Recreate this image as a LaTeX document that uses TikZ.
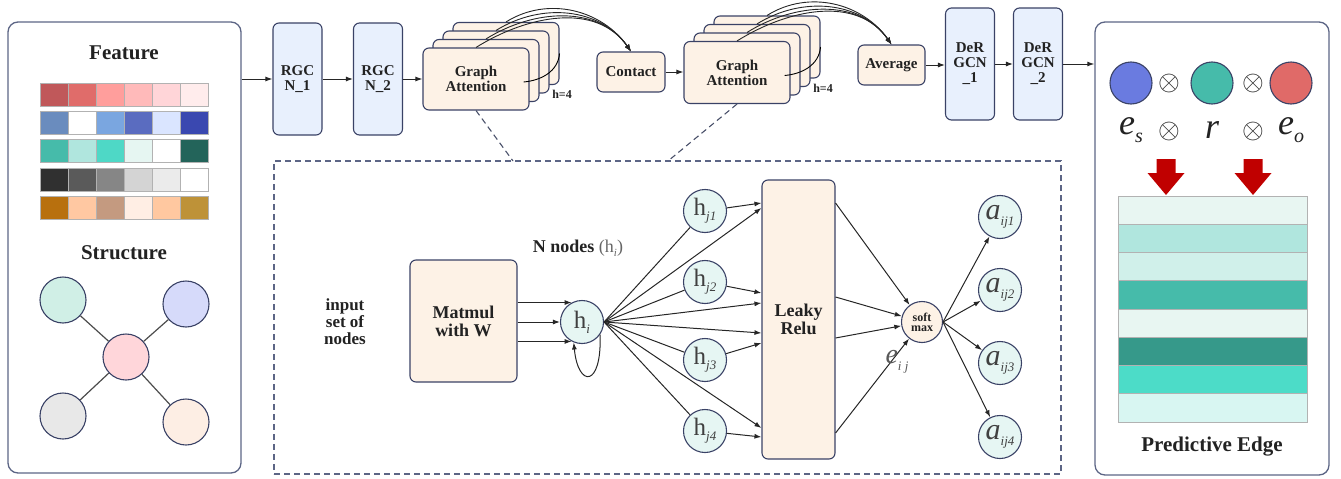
\documentclass[tikz,border=0pt]{standalone}
\usepackage{fontspec}
\setmainfont{Liberation Serif}
\usetikzlibrary{arrows.meta, positioning, calc}

% frame and fill colours
\definecolor{frame}{HTML}{3A4266}
\definecolor{panelc}{HTML}{5C6585}
\definecolor{ink}{HTML}{222222}
\definecolor{cream}{HTML}{FDF2E6}
\definecolor{paleblue}{HTML}{E8F0FD}
\definecolor{paleteal}{HTML}{E6F6F3}
\definecolor{redarrow}{HTML}{C00000}
% feature grid
\definecolor{fa1}{HTML}{C0585A}\definecolor{fa2}{HTML}{E06C6A}\definecolor{fa3}{HTML}{FF9E9C}
\definecolor{fa4}{HTML}{FFBABA}\definecolor{fa5}{HTML}{FFD5D8}\definecolor{fa6}{HTML}{FFECEC}
\definecolor{fb1}{HTML}{6A8CBE}\definecolor{fb2}{HTML}{FFFFFF}\definecolor{fb3}{HTML}{7AA6E0}
\definecolor{fb4}{HTML}{5A6CC0}\definecolor{fb5}{HTML}{DAE5FF}\definecolor{fb6}{HTML}{3A48B0}
\definecolor{fc1}{HTML}{46BBAA}\definecolor{fc2}{HTML}{B0E6DE}\definecolor{fc3}{HTML}{4ED8C6}
\definecolor{fc4}{HTML}{E6F6F2}\definecolor{fc5}{HTML}{FFFFFF}\definecolor{fc6}{HTML}{23645A}
\definecolor{fd1}{HTML}{303030}\definecolor{fd2}{HTML}{5A5A5A}\definecolor{fd3}{HTML}{868686}
\definecolor{fd4}{HTML}{D4D4D4}\definecolor{fd5}{HTML}{EBEBEB}\definecolor{fd6}{HTML}{FFFFFF}
\definecolor{fe1}{HTML}{B8700E}\definecolor{fe2}{HTML}{FFC8A2}\definecolor{fe3}{HTML}{C49A80}
\definecolor{fe4}{HTML}{FFEEE4}\definecolor{fe5}{HTML}{FFC8A0}\definecolor{fe6}{HTML}{BE9238}
% structure nodes
\definecolor{sTeal}{HTML}{D0EFE6}\definecolor{sBlue}{HTML}{D6DAFA}\definecolor{sPink}{HTML}{FFD6DA}
\definecolor{sGray}{HTML}{E8E8E8}\definecolor{sPeach}{HTML}{FDEEE4}
% triple and edge bars
\definecolor{eBlue}{HTML}{6A7BE0}\definecolor{eTeal}{HTML}{46BBAA}\definecolor{eRed}{HTML}{E06A68}
\definecolor{pb1}{HTML}{E8F6F2}\definecolor{pb2}{HTML}{B0E6DE}\definecolor{pb3}{HTML}{D0F0EA}
\definecolor{pb4}{HTML}{46BBAA}\definecolor{pb5}{HTML}{E8F6F2}\definecolor{pb6}{HTML}{36998A}
\definecolor{pb7}{HTML}{4CDCC8}\definecolor{pb8}{HTML}{D8F6F2}

\newcommand{\fs}[1]{\fontsize{#1}{#1}\selectfont}
\newcommand{\hsub}[1]{h\raisebox{-5pt}{\fs{13}\itshape #1}}
\newcommand{\asub}[1]{\textit{a}\raisebox{-6pt}{\fs{13}\itshape #1}}
\newcommand{\opx}{\scalebox{1.35}{$\otimes$}}

\begin{document}
\begin{tikzpicture}[x=1pt,y=-1pt,line width=1pt,
    arr/.style={-{Latex[length=7pt,width=5pt]},black!85},
    box/.style={draw=frame,rounded corners=6pt,line width=1.1pt,fill=cream,
        font=\fs{15}\bfseries,align=center,text=ink,inner sep=1pt},
    bluebox/.style={box,fill=paleblue,minimum width=49pt,minimum height=112pt},
    stack/.style={box,minimum width=106pt,minimum height=62pt},
    panel/.style={draw=panelc,rounded corners=10pt,line width=1.3pt},
    title/.style={font=\fs{21}\bfseries,text=ink},
    cell/.style={draw=gray!60,line width=0.8pt},
    snode/.style={circle,draw=frame,line width=1.1pt,minimum size=46pt,inner sep=0pt},
    dot/.style={circle,draw=frame,line width=1.1pt,minimum size=43pt,inner sep=0pt,
        fill=paleteal,text=black!75,font=\fs{25}},
    otimes/.style={font=\fs{20},text=ink,inner sep=0pt}
    ]
    \useasboundingbox (0,0) rectangle (1341,479);

    % Left panel: feature and structure
    \node[panel,minimum width=233pt,minimum height=451pt] (leftPanel) at (124.5,247.5) {};
    \node[title] (featTitle) at (124,53) {Feature};
    \foreach \y/\row in {83/a,111/b,139/c,168/d,196/e}{
        \foreach \k in {1,...,6}
            \filldraw[cell,fill=f\row\k] ({12+28*\k},\y) rectangle ++(28,23);
    }
    \node[title] (structTitle) at (124,253) {Structure};
    \node[snode,fill=sPink] (sCenter) at (126,357) {};
    \node[snode,fill=sTeal] (sTL) at (63,300) {};
    \node[snode,fill=sBlue] (sTR) at (186,304) {};
    \node[snode,fill=sGray] (sBL) at (63,416) {};
    \node[snode,fill=sPeach] (sBR) at (186,422) {};
    \foreach \s in {sTL,sTR,sBL,sBR}
        \draw[black!70,line width=1.2pt] (sCenter) -- (\s);

    % Top row
    \node[bluebox] (rgcn1) at (297.5,79) {RGC\\N\_1};
    \node[bluebox] (rgcn2) at (378,79) {RGC\\N\_2};
    \foreach \k in {3,2,1}
        \node[stack] (ga\k) at ({476+10*\k},{79-8.5*\k}) {};
    \node[stack] (ga) at (476,79) {Graph\\Attention};
    \node[font=\fs{12}\bfseries,text=ink] (headsA) at (562,94) {h=4};
    \node[box,minimum width=68pt,minimum height=40pt] (contact) at (631,72) {Contact};
    \foreach \k in {3,2,1}
        \node[stack] (gb\k) at ({737+10*\k},{72.5-8.5*\k}) {};
    \node[stack] (gb) at (737,72.5) {Graph\\Attention};
    \node[font=\fs{12}\bfseries,text=ink] (headsB) at (823,88) {h=4};
    \node[box,minimum width=67pt,minimum height=40pt] (average) at (891.5,65) {Average};
    \node[bluebox] (dergcn1) at (970,64) {DeR\\GCN\\\_1};
    \node[bluebox] (dergcn2) at (1038,64) {DeR\\GCN\\\_2};

    % heads merged
    \foreach \n in {ga,ga1,ga2,ga3}
        \draw[arr,line width=0.9pt] (\n.north) to[out=32,in=125] (contact.north);
    \draw[line width=0.9pt] ([shift={(-6,3)}]ga.east) to[out=5,in=-95] (ga3.east);
    \foreach \n in {gb,gb1,gb2,gb3}
        \draw[arr,line width=0.9pt] (\n.north) to[out=32,in=125] (average.north);
    \draw[line width=0.9pt] ([shift={(-6,3)}]gb.east) to[out=5,in=-95] (gb3.east);

    \draw[arr] (leftPanel.east |- rgcn1) -- (rgcn1);
    \draw[arr] (rgcn1) -- (rgcn2);
    \draw[arr] (rgcn2) -- (ga);
    \draw[arr] (contact) -- (gb.west |- contact);
    \draw[arr] (average) -- (dergcn1.west |- average);
    \draw[arr] (dergcn1) -- (dergcn2);

    % Right panel: scoring
    \node[panel,minimum width=234pt,minimum height=453pt] (rightPanel) at (1212,248.5) {};
    \draw[arr] (dergcn2) -- (rightPanel.west |- dergcn2);
    \node[circle,draw=frame,line width=1.1pt,minimum size=42pt,fill=eBlue] (es) at (1131,83) {};
    \node[circle,draw=frame,line width=1.1pt,minimum size=42pt,fill=eTeal] (rel) at (1212,83) {};
    \node[circle,draw=frame,line width=1.1pt,minimum size=42pt,fill=eRed] (eo) at (1291,83) {};
    \node[otimes] (opA) at (1169,83) {\opx};
    \node[otimes] (opB) at (1253,83) {\opx};
    \node[font=\fs{36}\itshape,text=ink] (esTxt) at (1131,130) {e\raisebox{-8pt}{\fs{20}s}};
    \node[otimes] (opC) at (1169,131) {\opx};
    \node[font=\fs{36}\itshape,text=ink] (relTxt) at (1212,130) {r};
    \node[otimes] (opD) at (1253,131) {\opx};
    \node[font=\fs{36}\itshape,text=ink] (eoTxt) at (1291,130) {e\raisebox{-8pt}{\fs{20}o}};
    \foreach \x in {1166,1253}
        \fill[redarrow] ({\x-9.5},159) -- ({\x+9.5},159) -- ({\x+9.5},173) -- ({\x+18.5},173)
            -- (\x,195) -- ({\x-18.5},173) -- ({\x-9.5},173) -- cycle;
    \foreach \c [count=\k from 0] in {pb1,pb2,pb3,pb4,pb5,pb6,pb7,pb8}
        \filldraw[cell,fill=\c] (1118,{196+28.25*\k}) rectangle (1307,{196+28.25*(\k+1)});
    \node[title] (edgeTitle) at (1212,447) {Predictive Edge};

    % Attention detail
    \node[draw=panelc,dash pattern=on 6pt off 4pt,line width=1.1pt,
        minimum width=787pt,minimum height=313pt] (detail) at (667.5,317.5) {};
    \coordinate (zoomL) at (513,161);
    \coordinate (zoomR) at (668,161);
    \draw[panelc!80!black,dash pattern=on 6pt off 4pt,line width=1.1pt] (ga.south) -- (zoomL);
    \draw[panelc!80!black,dash pattern=on 6pt off 4pt,line width=1.1pt] (gb.south) -- (zoomR);

    \node[font=\fs{17}\bfseries,align=center,text=ink] (inputTxt) at (345,322) {input\\set of\\nodes};
    \node[box,font=\fs{18}\bfseries,minimum width=107pt,minimum height=122pt] (matmul) at (463.5,321) {Matmul\\with W};
    \node[dot] (hi) at (582,322) {\hsub{i}};
    \node[font=\fs{18}\bfseries,text=ink] (nNodes) at (578,248)
        {N nodes \textcolor{black!60}{\mdseries(h\raisebox{-4pt}{\fs{11}\itshape i})}};
    \draw[arr] (matmul.east |- hi.118) -- (hi.118);
    \draw[arr] (matmul.east |- hi) -- (hi.west);
    \draw[arr] (matmul.east |- hi.242) -- (hi.242);
    \draw[arr] (hi.-35) .. controls (602,388) and (578,388) .. (hi.-112);

    \node[box,font=\fs{18}\bfseries,minimum width=73pt,minimum height=279pt] (leaky) at (798.5,319.5) {Leaky\\Relu};
    \node[dot] (hj1) at (705,211) {\hsub{j1}};
    \node[dot] (hj2) at (705,282) {\hsub{j2}};
    \node[dot] (hj3) at (705,360) {\hsub{j3}};
    \node[dot] (hj4) at (705,431) {\hsub{j4}};
    \foreach \k in {1,...,4}
        \draw[black!85] (hi.east) -- (hj\k);
    \foreach \y in {208,303,333,428}
        \draw[arr] (hi.east) -- (leaky.west |- 0,\y);
    \foreach \k/\y in {1/203,2/293,3/343,4/437}
        \draw[arr] (hj\k) -- (leaky.west |- 0,\y);

    \node[circle,draw=frame,line width=1.1pt,minimum size=41pt,inner sep=0pt,fill=cream,
        font=\fs{12}\bfseries,align=center,text=ink] (soft) at (922,322) {soft\\[-2pt]max};
    \foreach \y in {203,297,338,433}
        \draw[arr] (leaky.east |- 0,\y) -- (soft);
    \node[font=\fs{28}\itshape,text=black!65] (eij) at (897,362) {e\raisebox{-7pt}{\fs{13}i j}};

    \foreach \k/\y in {1/217,2/290,3/363,4/437}{
        \node[dot,font=\fs{30}] (a\k) at (1000,\y) {\asub{ij\k}};
        \draw[arr] (soft.east) -- (a\k);
    }
\end{tikzpicture}
\end{document}
